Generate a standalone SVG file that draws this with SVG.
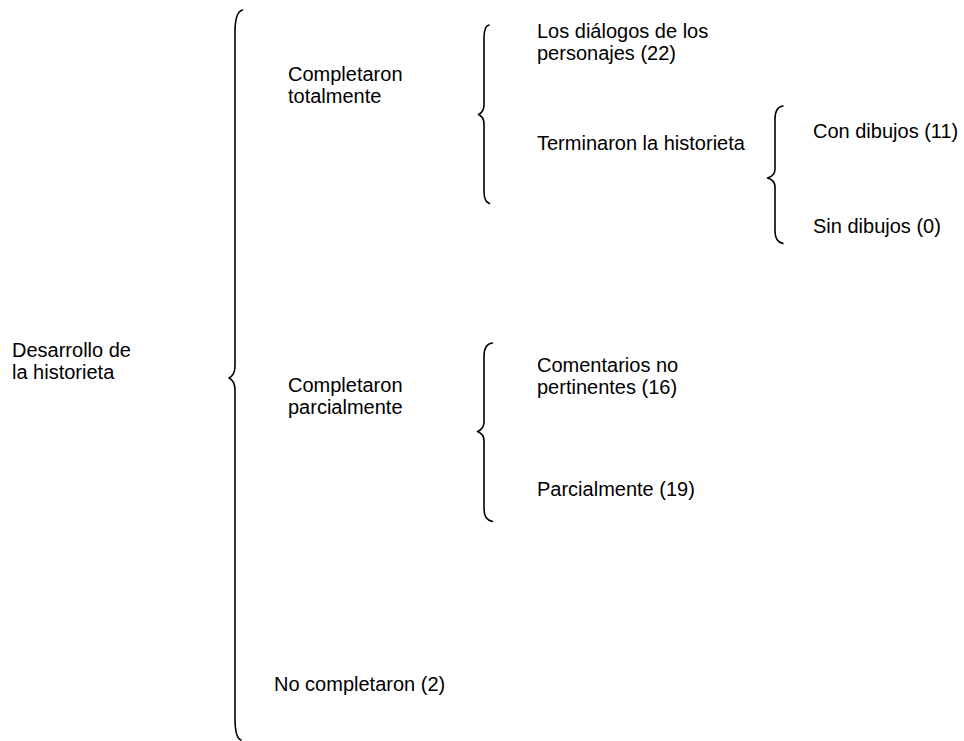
<svg xmlns="http://www.w3.org/2000/svg" width="964" height="741" viewBox="0 0 964 741">
  <style>
    .lbl { font-family: "Liberation Sans", Arial, sans-serif; font-size: 20px; fill: #000; }
    .brace { fill: none; stroke: #000; stroke-width: 1.6; stroke-linecap: round; stroke-linejoin: round; }
  </style>
  <rect width="964" height="741" fill="#fff"/>

  <!-- braces grouping each level -->
  <g id="connectors">
    <!-- main brace -->
    <path class="brace" d="M242.5,10 Q235,12 235,32 L235,366 Q235,375 229,378 Q235,381 235,390 L235,718 Q235,738 241,740"/>
    <!-- completaron totalmente -->
    <path class="brace" d="M489,25 Q484,26 484,38 L484,105 Q484,112 478.5,114.5 Q484,117 484,124 L484,191 Q484,202 489.5,203.5"/>
    <!-- terminaron la historieta -->
    <path class="brace" d="M783,106 Q775,107 775,119 L775,169 Q775,176 767.5,178 Q775,180 775,187 L775,231 Q775,242 783,243.5"/>
    <!-- completaron parcialmente -->
    <path class="brace" d="M492.5,343 Q484,344 484,356 L484,422 Q484,429 477.5,431.5 Q484,434 484,441 L484,509 Q484,520 492.5,521.5"/>
  </g>

  <g id="root">
    <text class="lbl" x="12" y="357">Desarrollo de</text>
    <text class="lbl" x="12" y="379">la historieta</text>
  </g>
  <g id="totalmente">
    <text class="lbl" x="288" y="81">Completaron</text>
    <text class="lbl" x="288" y="103">totalmente</text>
  </g>
  <g id="dialogos">
    <text class="lbl" x="537" y="38">Los diálogos de los</text>
    <text class="lbl" x="537" y="60">personajes (22)</text>
  </g>
  <g id="terminaron">
    <text class="lbl" x="537" y="149.5">Terminaron la historieta</text>
  </g>
  <g id="con-dibujos">
    <text class="lbl" x="813" y="138">Con dibujos (11)</text>
  </g>
  <g id="sin-dibujos">
    <text class="lbl" x="813" y="233">Sin dibujos (0)</text>
  </g>
  <g id="parcialmente">
    <text class="lbl" x="288" y="391.5">Completaron</text>
    <text class="lbl" x="288" y="413.5">parcialmente</text>
  </g>
  <g id="comentarios">
    <text class="lbl" x="537" y="371.5">Comentarios no</text>
    <text class="lbl" x="537" y="393.5">pertinentes (16)</text>
  </g>
  <g id="parcial-19">
    <text class="lbl" x="537" y="496">Parcialmente (19)</text>
  </g>
  <g id="no-completaron">
    <text class="lbl" x="274" y="690.5">No completaron (2)</text>
  </g>
</svg>
